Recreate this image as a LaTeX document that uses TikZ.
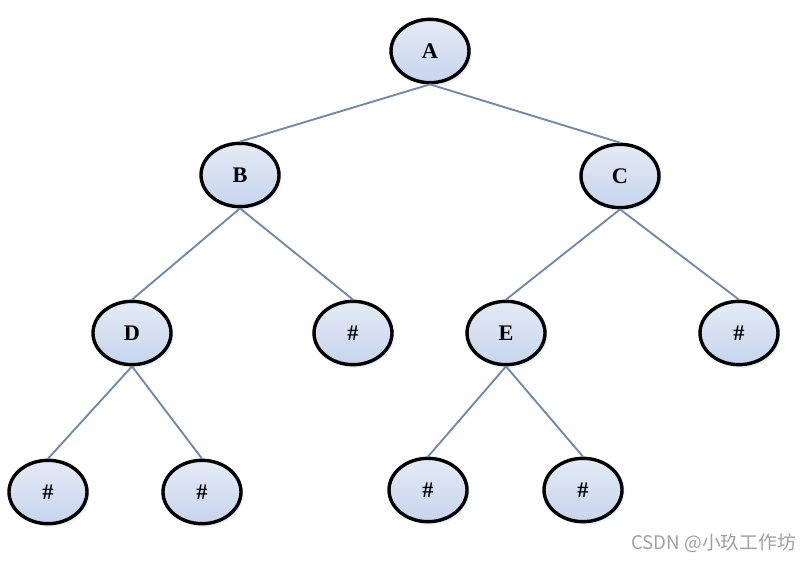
\documentclass[tikz,border=0pt]{standalone}
\usepackage{fontspec}
\setmainfont{Liberation Serif}
\newfontfamily\cjkfont{Noto Sans CJK SC}
\usepackage{xcolor}
\usepackage{tikz}
\usetikzlibrary{shapes.geometric, shadows}
\definecolor{trFill}{HTML}{C6D4EC}
\definecolor{trFillHi}{HTML}{E4EBF6}
\definecolor{trEdge}{HTML}{7089AA}
\definecolor{trShade}{HTML}{B8C8E4}
\definecolor{trMark}{HTML}{A0A0A0}
\tikzset{
  tr-node/.style={
    ellipse, draw=black, line width=2.9pt,
    top color=trFillHi, bottom color=trFill,
    minimum width=2.34cm, minimum height=1.9cm, inner sep=0pt,
    font=\fontsize{19}{22}\selectfont\bfseries,
    drop shadow={opacity=0.25, fill=trShade, shadow xshift=0.08cm, shadow yshift=-0.1cm}
  },
  tr-edge/.style={draw=trEdge, line width=1.6pt},
}

\begin{document}
\begin{tikzpicture}[x=0.03cm, y=-0.03cm]
  \useasboundingbox (0,0) rectangle (810,562);

  \node[tr-node] (a)  at (430,51)  {A};
  \node[tr-node] (b)  at (240,175) {B};
  \node[tr-node] (c)  at (620,176) {C};
  \node[tr-node] (d)  at (132,333) {D};
  \node[tr-node] (b2) at (353,333) {\#};
  \node[tr-node] (e)  at (506,333) {E};
  \node[tr-node] (c2) at (739,333) {\#};
  \node[tr-node] (d1) at (48,492)  {\#};
  \node[tr-node] (d2) at (202,492) {\#};
  \node[tr-node] (e1) at (428,490) {\#};
  \node[tr-node] (e2) at (583,490) {\#};

  \draw[tr-edge] (a.south) -- (b.north);
  \draw[tr-edge] (a.south) -- (c.north);
  \draw[tr-edge] (b.south) -- (d.north);
  \draw[tr-edge] (b.south) -- (b2.north);
  \draw[tr-edge] (c.south) -- (e.north);
  \draw[tr-edge] (c.south) -- (c2.north);
  \draw[tr-edge] (d.south) -- (d1.north);
  \draw[tr-edge] (d.south) -- (d2.north);
  \draw[tr-edge] (e.south) -- (e1.north);
  \draw[tr-edge] (e.south) -- (e2.north);

  % watermark
  \node[anchor=east, text=trMark, font=\cjkfont\fontsize{16}{18}\selectfont,
        inner sep=0pt] (mark) at (796,543) {CSDN @小玖工作坊};
\end{tikzpicture}
\end{document}
